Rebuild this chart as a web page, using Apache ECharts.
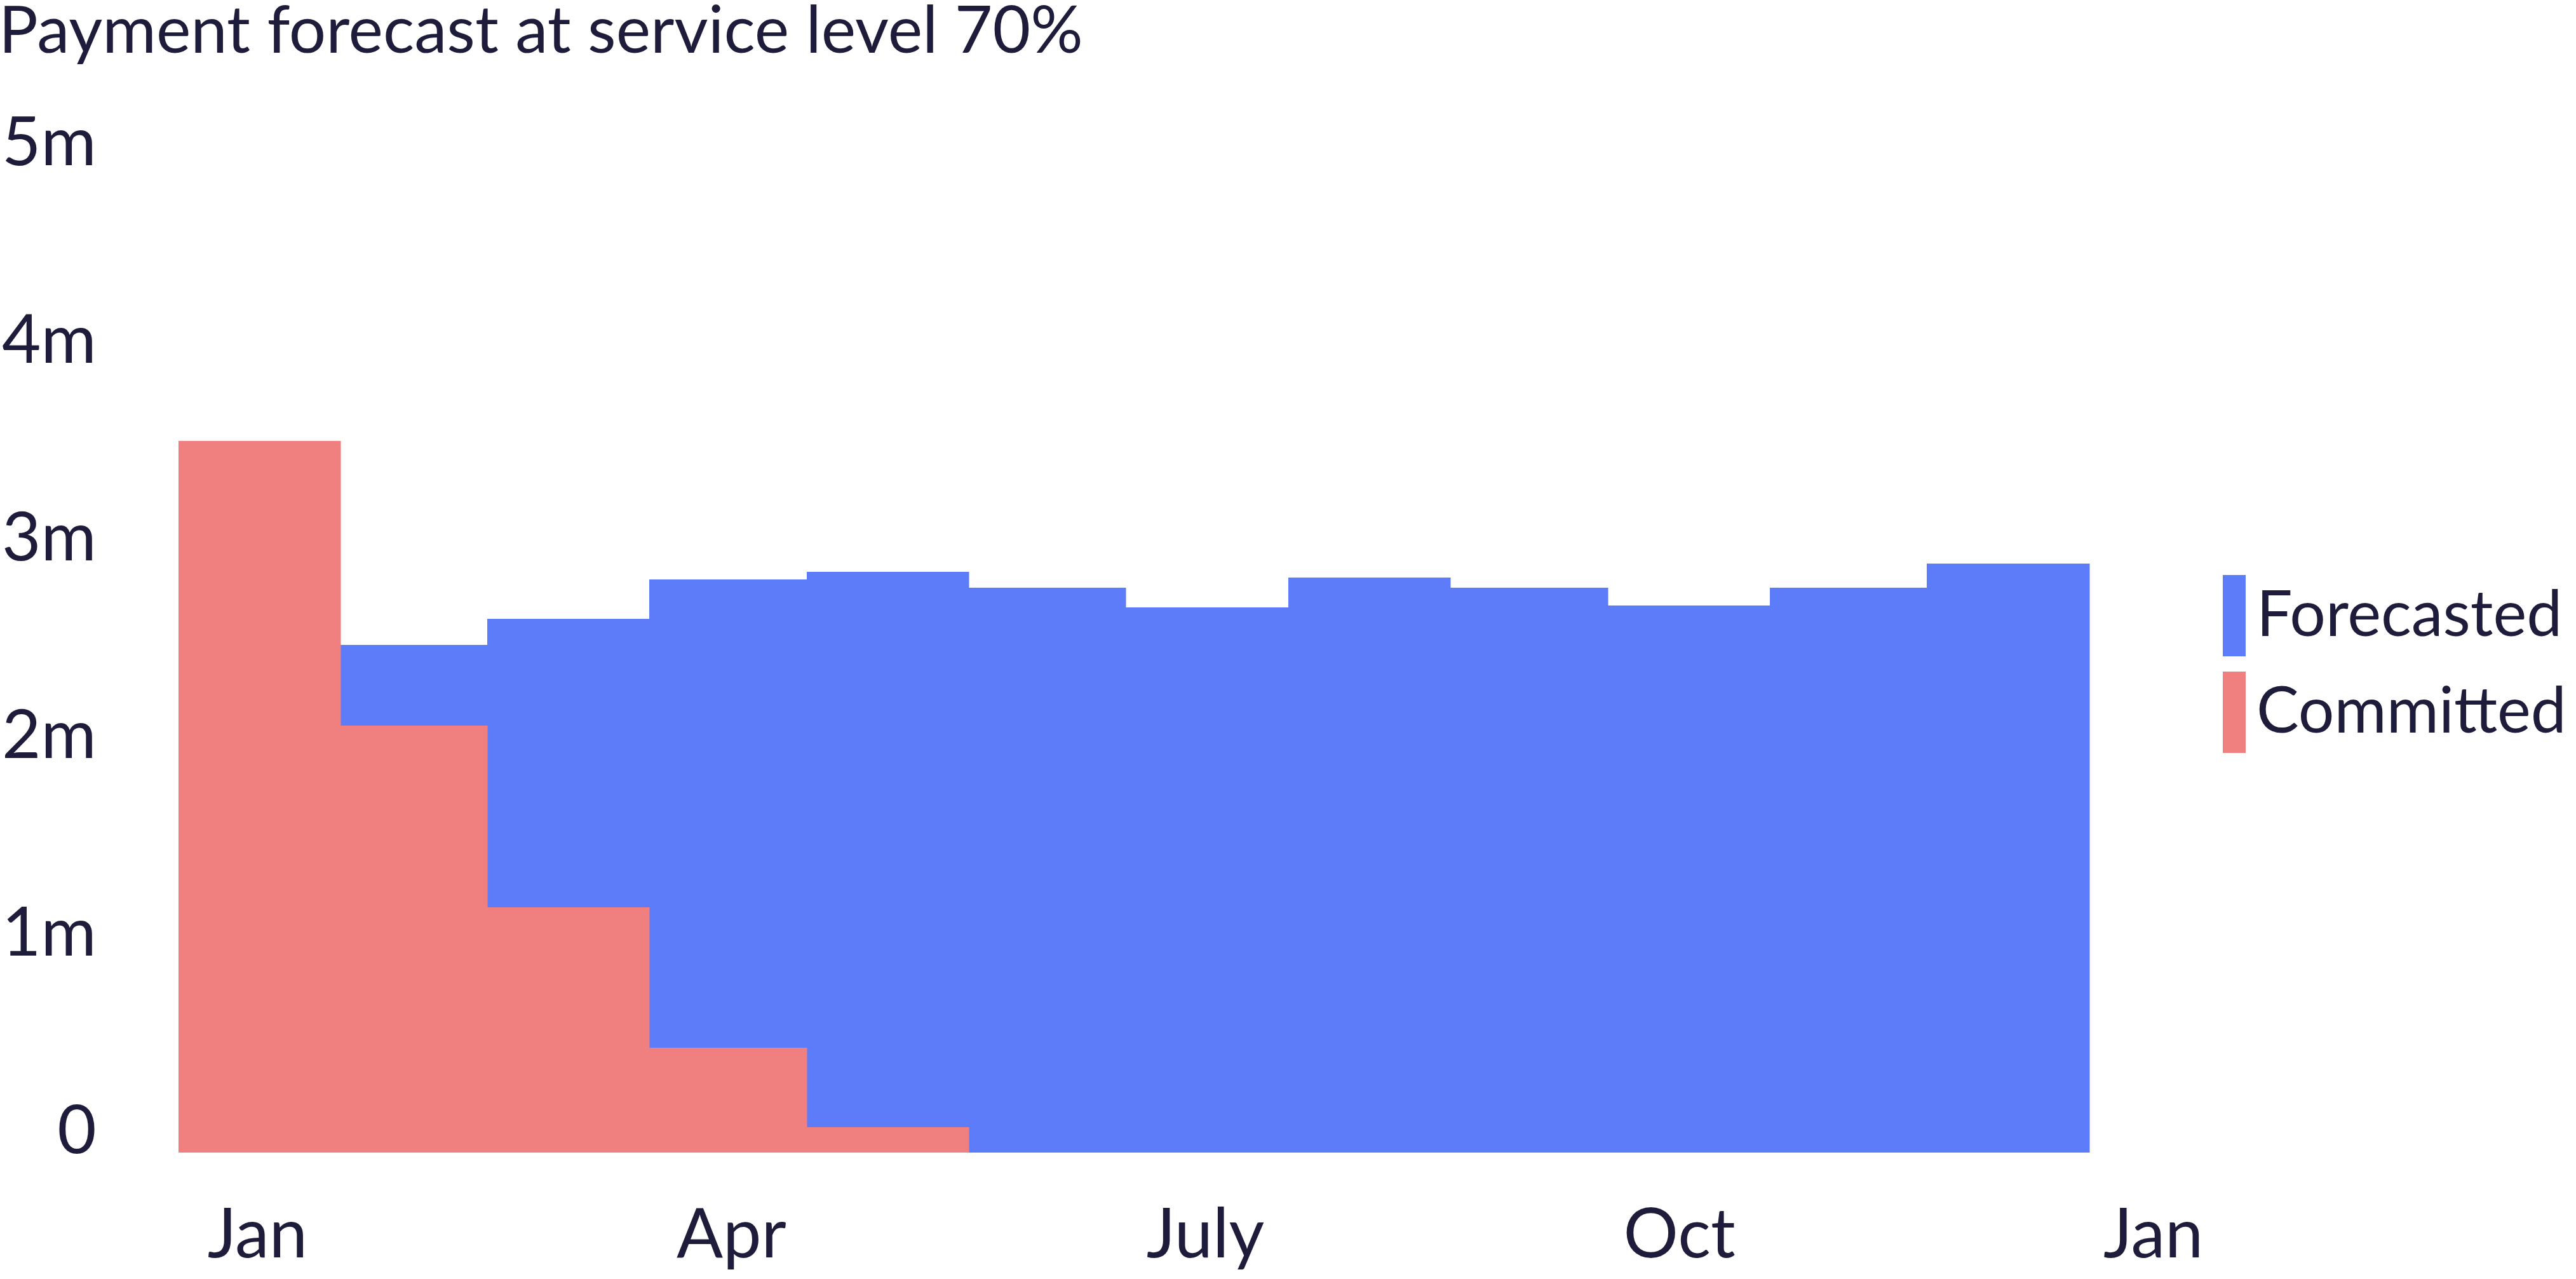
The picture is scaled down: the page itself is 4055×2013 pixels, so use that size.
<!DOCTYPE html>
<html>
<head>
<meta charset="utf-8">
<script src="https://cdn.jsdelivr.net/npm/echarts@6/dist/echarts.min.js"></script>
<style>
  html, body { margin: 0; padding: 0; background: #ffffff; }
  #chart { width: 4055px; height: 2013px; }
</style>
</head>
<body>
<div id="chart"></div>
<script>
// ---- data ----
const YEAR = 2023;
const months = ['Jan','Feb','Mar','Apr','May','Jun','Jul','Aug','Sep','Oct','Nov','Dec'];
const axisLabels = ['Jan','Feb','Mar','Apr','May','Jun','July','Aug','Sep','Oct','Nov','Dec','Jan'];
const forecasted = [null, 2.57e6, 2.70e6, 2.90e6, 2.94e6, 2.86e6, 2.76e6, 2.91e6, 2.86e6, 2.77e6, 2.86e6, 2.98e6];
const committed  = [3.60e6, 2.16e6, 1.24e6, 0.53e6, 0.13e6, null, null, null, null, null, null, null];
const yTicks = [0, 1e6, 2e6, 3e6, 4e6, 5e6];

const BLUE = '#5c7cfa';
const RED = '#f08080';
const INK = '#1d1d3b';
const FONT = 'Lato';

function toData(vals) {
  return vals.map((v, i) => [Date.UTC(YEAR, i, 1), v, i]);
}

function renderMonthBar(color) {
  return function (params, api) {
    const v = api.value(1);
    if (v == null || isNaN(v)) return null;
    const idx = api.value(2);
    const start = Date.UTC(YEAR, idx, 1);
    const end = Date.UTC(YEAR, idx + 1, 1);
    const p0 = api.coord([start, v]);
    const p1 = api.coord([end, 0]);
    const x0 = Math.round(p0[0]), x1 = Math.round(p1[0]);
    const y0 = Math.round(p0[1]), y1 = Math.round(p1[1]);
    return {
      type: 'rect',
      shape: { x: x0, y: y0, width: x1 - x0 + 0.5, height: y1 - y0 },
      style: { fill: color }
    };
  };
}

const chart = echarts.init(document.getElementById('chart'), null, { renderer: 'canvas' });
chart.setOption({
  animation: false,
  backgroundColor: '#ffffff',
  textStyle: { fontFamily: FONT, color: INK },
  title: {
    text: 'Payment forecast at service level 70%',
    left: -2,
    top: -2,
    padding: 0,
    textStyle: { fontFamily: FONT, fontSize: 103, fontWeight: 'normal', color: INK }
  },
  legend: {
    orient: 'vertical',
    left: 3499,
    top: 905,
    padding: 0,
    itemWidth: 36,
    itemHeight: 128,
    itemGap: 24,
    icon: 'rect',
    selectedMode: false,
    data: [
      { name: 'Forecasted', itemStyle: { color: BLUE } },
      { name: 'Committed', itemStyle: { color: RED } }
    ],
    textStyle: { fontFamily: FONT, fontSize: 100, color: INK, padding: [0, 0, 0, 12] }
  },
  grid: [
    { left: 274, right: 4055 - 3289, top: 259, bottom: 2013 - 1814, containLabel: false },
    { left: 281, right: 4055 - 3514, top: 259, bottom: 2013 - 1814, containLabel: false }
  ],
  xAxis: [
    {
      type: 'time', gridIndex: 0,
      min: Date.UTC(YEAR, 0, 1), max: Date.UTC(YEAR + 1, 0, 1),
      axisLine: { show: false }, axisTick: { show: false }, axisLabel: { show: false }, splitLine: { show: false }
    },
    {
      type: 'category', gridIndex: 1, data: axisLabels, boundaryGap: true,
      axisLine: { show: false }, axisTick: { show: false }, splitLine: { show: false },
      axisLabel: { interval: 2, margin: 76, fontFamily: FONT, fontSize: 108, color: INK }
    }
  ],
  yAxis: [
    {
      type: 'value', gridIndex: 0, min: yTicks[0], max: yTicks[yTicks.length - 1], interval: 1e6,
      axisLine: { show: false }, axisTick: { show: false }, splitLine: { show: false },
      axisLabel: {
        margin: 129, fontFamily: FONT, fontSize: 106, color: INK, align: 'right',
        verticalAlign: 'bottom', lineHeight: 66,
        formatter: v => v === 0 ? '0' : (v / 1e6) + 'm'
      }
    },
    { type: 'value', gridIndex: 1, show: false }
  ],
  series: [
    {
      name: 'Forecasted', type: 'custom', xAxisIndex: 0, yAxisIndex: 0,
      itemStyle: { color: BLUE },
      renderItem: renderMonthBar(BLUE),
      encode: { x: 0, y: 1 },
      data: toData(forecasted)
    },
    {
      name: 'Committed', type: 'custom', xAxisIndex: 0, yAxisIndex: 0,
      itemStyle: { color: RED },
      renderItem: renderMonthBar(RED),
      encode: { x: 0, y: 1 },
      data: toData(committed)
    }
  ]
});
</script>
</body>
</html>
